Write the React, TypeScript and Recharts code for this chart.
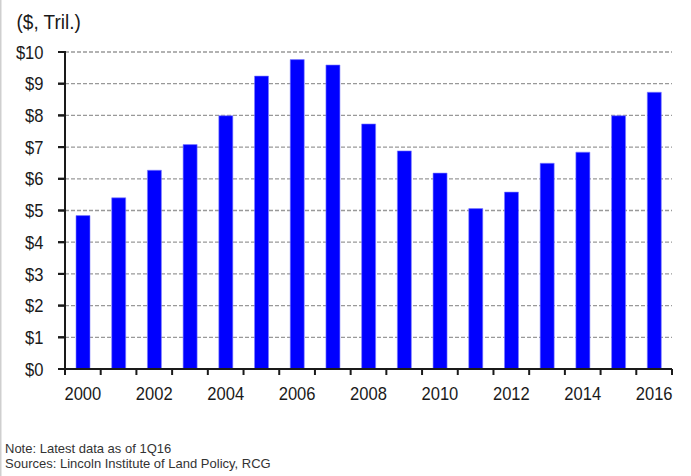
import React from 'react';
import { BarChart, Bar, XAxis, YAxis, CartesianGrid } from 'recharts';

const years = ['2000','2001','2002','2003','2004','2005','2006','2007','2008','2009','2010','2011','2012','2013','2014','2015','2016'];
const values = [4.84, 5.40, 6.27, 7.08, 7.99, 9.24, 9.76, 9.59, 7.73, 6.88, 6.18, 5.06, 5.58, 6.49, 6.84, 7.99, 8.73];
const yTicks = [0,1,2,3,4,5,6,7,8,9,10];
const xLabelYears = ['2000','2002','2004','2006','2008','2010','2012','2014','2016'];
const unitLabel = '($, Tril.)';
const noteLines = ['Note: Latest data as of 1Q16', 'Sources: Lincoln Institute of Land Policy, RCG'];

const data = years.map((y, i) => ({ year: y, value: values[i] }));

const W = 691;
const H = 476;
const MARGIN = { top: 52, right: 19, left: 0, bottom: 77 };
const Y_W = 65;
const X_H = 30;
const BAND = (W - MARGIN.right - MARGIN.left - Y_W) / years.length;
const STEP_Y = (H - MARGIN.top - MARGIN.bottom - X_H) / (yTicks.length - 1);
const FONT = "'Liberation Sans', Arial, sans-serif";
const TEXT = '#1a1a1a';
const AX = '#1a1a1a';

function XTick(props: any) {
  const { x, y, payload, index } = props;
  const half = BAND / 2;
  const isLast = index === years.length - 1;
  return (
    <g>
      <rect x={x - half} y={y - 1} width={BAND} height={2} fill={AX} />
      <rect x={x - half - 1} y={y} width={2} height={6} fill={AX} />
      {isLast && <rect x={x + half - 1} y={y} width={2} height={6} fill={AX} />}
      {xLabelYears.includes(payload.value) && (
        <text transform={`translate(${x},${y + 31}) scale(0.89,1)`} textAnchor="middle" fontSize={18.6} fill={TEXT} fontFamily={FONT}>
          {payload.value}
        </text>
      )}
    </g>
  );
}

function YTick(props: any) {
  const { y, payload } = props;
  const axisX = Y_W + MARGIN.left;
  return (
    <g>
      <rect x={axisX - 7} y={y - 1} width={8} height={2} fill={AX} />
      {payload.value > 0 && <rect x={axisX - 1} y={y - 1} width={2} height={STEP_Y + 1} fill={AX} />}
      <text transform={`translate(43.5,${y + 6.6}) scale(0.89,1)`} textAnchor="end" fontSize={18.6} fill={TEXT} fontFamily={FONT}>
        {`$${payload.value}`}
      </text>
    </g>
  );
}

export default function App() {
  return (
    <div style={{ position: 'absolute', left: 0, top: 0, width: W, height: H, background: '#fff' }}>
      <BarChart width={W} height={H} data={data} margin={MARGIN} barSize={14}>
        <CartesianGrid horizontal={true} vertical={false} stroke="#999" strokeDasharray="4 2" strokeWidth={1.3} />
        <Bar dataKey="value" fill="#0000ff" stroke="#8080ff" strokeWidth={0.6} isAnimationActive={false} />
        <XAxis
          dataKey="year"
          height={X_H}
          interval={0}
          axisLine={{ stroke: AX, strokeWidth: 2 }}
          tickLine={false}
          tickSize={0}
          tickMargin={0}
          tick={<XTick />}
        />
        <YAxis
          width={Y_W}
          domain={[0, 10]}
          ticks={yTicks}
          interval={0}
          axisLine={{ stroke: AX, strokeWidth: 2 }}
          tickLine={{ stroke: AX, strokeWidth: 2 }}
          tickSize={7}
          tick={<YTick />}
        />
      </BarChart>
      <svg width={W} height={H} style={{ position: 'absolute', left: 0, top: 0, pointerEvents: 'none' }}>
        <rect x={0} y={0} width={1.5} height={H} fill="#cfcfcf" />
        <text transform="translate(16.5,29.3) scale(0.95,1)" fontSize={20} fill={TEXT} fontFamily={FONT}>{unitLabel}</text>
        {noteLines.map((l, i) => (
          <text key={l} x={5} y={453.3 + i * 15} fontSize={13} fill="#333" fontFamily={FONT}>{l}</text>
        ))}
      </svg>
    </div>
  );
}
